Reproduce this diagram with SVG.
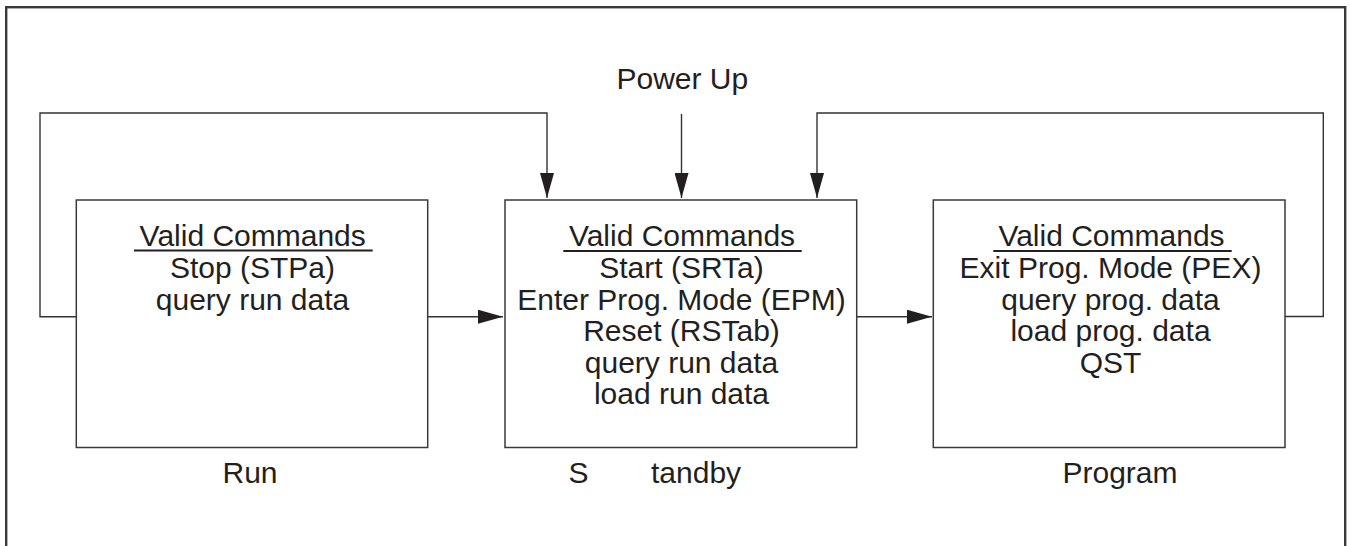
<svg xmlns="http://www.w3.org/2000/svg" width="1351" height="546" viewBox="0 0 1351 546">
  <style>
    .frame { fill: none; stroke: #3a3a3a; stroke-width: 2.4; }
    .box { fill: #ffffff; stroke: #3a3a3a; stroke-width: 1.5; }
    .conn { fill: none; stroke: #333333; stroke-width: 1.4; }
    .t { font-family: "Liberation Sans", Arial, sans-serif; font-size: 30px; fill: #231f20; }
    .c { text-anchor: middle; }
    .ul { stroke: #231f20; stroke-width: 2; }
  </style>
  <defs>
    <marker id="arrow" markerUnits="userSpaceOnUse" markerWidth="25" markerHeight="14" viewBox="0 0 25 14" refX="25" refY="7" orient="auto">
      <path d="M0,0 L25,7 L0,14 Z" fill="#231f20"/>
    </marker>
  </defs>
  <rect class="frame" x="6.2" y="7.2" width="1339" height="560"/>
  <g id="connectors">
    <polyline class="conn" points="76.3,316.7 40,316.7 40,113 547,113 547,198" marker-end="url(#arrow)"/>
    <polyline class="conn" points="1285,316.5 1323.3,316.5 1323.3,113 817,113 817,198" marker-end="url(#arrow)"/>
    <line class="conn" x1="681.5" y1="114" x2="681.5" y2="198" marker-end="url(#arrow)"/>
    <line class="conn" x1="427.7" y1="316.7" x2="503" y2="316.7" marker-end="url(#arrow)"/>
    <line class="conn" x1="856.7" y1="316.7" x2="932" y2="316.7" marker-end="url(#arrow)"/>
  </g>
  <g id="power-up">
    <text class="t" x="616.5" y="89.3">Power Up</text>
  </g>
  <g id="run">
    <rect class="box" x="76.3" y="200" width="351.4" height="247.5"/>
    <text class="t c" x="252.7" y="246">Valid Commands</text>
    <line class="ul" x1="134" y1="250.5" x2="372.7" y2="250.5"/>
    <text class="t c" x="252.5" y="278">Stop (STPa)</text>
    <text class="t c" x="252.5" y="309.5">query run data</text>
    <text class="t" x="222.5" y="483.3">Run</text>
  </g>
  <g id="standby">
    <rect class="box" x="505" y="200" width="351.7" height="247.5"/>
    <text class="t c" x="682" y="246">Valid Commands</text>
    <line class="ul" x1="563.3" y1="251" x2="801.7" y2="251"/>
    <text class="t c" x="681.5" y="278">Start (SRTa)</text>
    <text class="t c" x="681.5" y="309.5">Enter Prog. Mode (EPM)</text>
    <text class="t c" x="681.5" y="341">Reset (RSTab)</text>
    <text class="t c" x="681.5" y="372.5">query run data</text>
    <text class="t c" x="681.5" y="404">load run data</text>
    <text class="t" y="483.3"><tspan x="568.5">S</tspan><tspan x="651">tandby</tspan></text>
  </g>
  <g id="program">
    <rect class="box" x="933.3" y="200" width="351.7" height="247.5"/>
    <text class="t c" x="1111.5" y="246">Valid Commands</text>
    <line class="ul" x1="993.3" y1="251" x2="1231.7" y2="251"/>
    <text class="t c" x="1110.5" y="278">Exit Prog. Mode (PEX)</text>
    <text class="t c" x="1110.5" y="309.5">query prog. data</text>
    <text class="t c" x="1110.5" y="341">load prog. data</text>
    <text class="t c" x="1110.5" y="372.5">QST</text>
    <text class="t" x="1062.5" y="483.3">Program</text>
  </g>
</svg>
